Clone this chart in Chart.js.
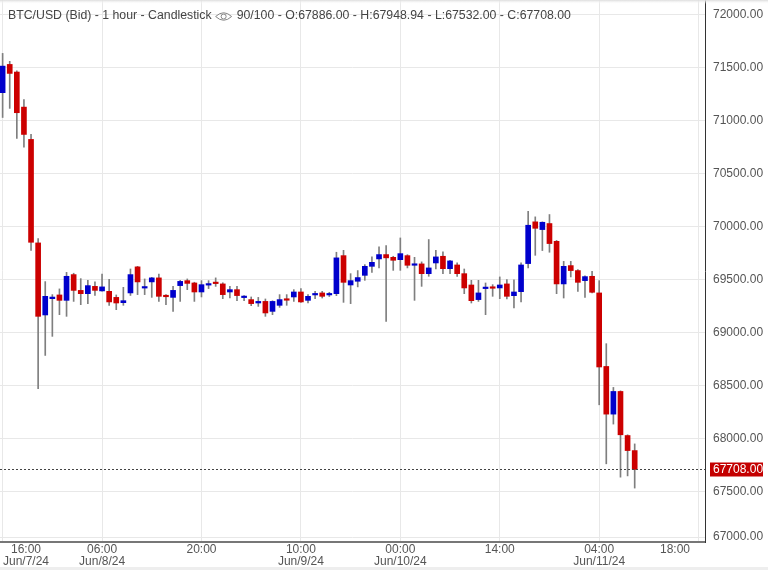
<!DOCTYPE html>
<html>
<head>
<meta charset="utf-8">
<script src="https://cdn.jsdelivr.net/npm/chart.js@4.4.1/dist/chart.umd.min.js"></script>
<style>
  html, body { margin: 0; padding: 0; background: #fff; }
  canvas { display: block; }
</style>
</head>
<body>
<canvas id="chart" width="768" height="570"></canvas>
<script>
//-----------------------------------------------------------------------------
// Data: BTC/USD hourly candles, first one at 16:00 Jun/7/24
const opens = [
  71264, 71531, 71459, 71128, 70823, 69846, 69166, 69320, 69355, 69304,
  69547, 69398, 69367, 69436, 69393, 69389, 69332, 69282, 69374, 69620,
  69420, 69478, 69516, 69345, 69332, 69443, 69490, 69468, 69383, 69448,
  69475, 69459, 69383, 69405, 69330, 69311, 69279, 69294, 69200, 69257,
  69315, 69336, 69383, 69304, 69355, 69374, 69355, 69367, 69726, 69449,
  69484, 69540, 69625, 69695, 69736, 69710, 69688, 69726, 69635, 69648,
  69556, 69657, 69720, 69603, 69638, 69556, 69449, 69311, 69415, 69430,
  69421, 69459, 69348, 69386, 69651, 70045, 69972, 70029, 69861, 69459,
  69632, 69585, 69490, 69531, 69374, 68680, 68230, 68444, 68028, 67886
];
const highs = [
  71635, 71560, 71470, 71200, 70870, 69887, 69481, 69358, 69412, 69568,
  69560, 69509, 69493, 69478, 69553, 69502, 69355, 69427, 69600, 69625,
  69506, 69521, 69553, 69358, 69436, 69493, 69506, 69475, 69490, 69490,
  69516, 69470, 69436, 69436, 69350, 69336, 69332, 69317, 69300, 69358,
  69358, 69405, 69414, 69358, 69389, 69389, 69380, 69758, 69776, 69556,
  69585, 69641, 69714, 69808, 69821, 69720, 69893, 69735, 69710, 69667,
  69878, 69776, 69761, 69682, 69657, 69600, 69493, 69493, 69468, 69452,
  69525, 69500, 69497, 69657, 70145, 70092, 70045, 70114, 69870, 69672,
  69672, 69595, 69535, 69578, 69490, 68895, 68482, 68450, 68035, 67948.94
];
const lows = [
  71030, 71116, 70832, 70750, 69776, 68470, 68784, 68964, 69169, 69153,
  69294, 69263, 69273, 69351, 69390, 69257, 69216, 69257, 69350, 69358,
  69358, 69332, 69294, 69263, 69200, 69294, 69405, 69294, 69336, 69415,
  69436, 69320, 69326, 69301, 69301, 69254, 69247, 69153, 69169, 69238,
  69257, 69294, 69285, 69279, 69320, 69326, 69340, 69348, 69285, 69273,
  69431, 69493, 69568, 69610, 69105, 69587, 69587, 69610, 69304, 69436,
  69531, 69600, 69556, 69556, 69531, 69367, 69279, 69294, 69169, 69342,
  69320, 69317, 69232, 69289, 69610, 69729, 69774, 69758, 69367, 69326,
  69525, 69389, 69332, 69375, 68318, 67761, 68136, 67635, 67647, 67532
];
const closes = [
  71515, 71446, 71075, 70870, 69852, 69153, 69342, 69335, 69304, 69531,
  69398, 69367, 69443, 69398, 69431, 69289, 69279, 69301, 69547, 69478,
  69425, 69516, 69342, 69338, 69398, 69483, 69464, 69383, 69452, 69455,
  69462, 69358, 69405, 69349, 69338, 69273, 69294, 69185, 69294, 69311,
  69305, 69383, 69289, 69342, 69362, 69342, 69362, 69705, 69474, 69490,
  69519, 69625, 69663, 69736, 69705, 69682, 69745, 69635, 69642, 69556,
  69610, 69714, 69603, 69676, 69556, 69421, 69301, 69374, 69425, 69418,
  69449, 69342, 69383, 69638, 70013, 69984, 70041, 69840, 69459, 69625,
  69585, 69474, 69528, 69380, 68675, 68230, 68444, 68035, 67886, 67708
];
// x ticks are hour offsets from the first candle
const tickHours = [0, 14, 28, 42, 56, 70, 84, 98];
const tickLabels = [
  ['16:00', 'Jun/7/24'], ['06:00', 'Jun/8/24'], ['20:00'], ['10:00', 'Jun/9/24'],
  ['00:00', 'Jun/10/24'], ['14:00'], ['04:00', 'Jun/11/24'], ['18:00']
];
const priceTicks = [67000, 67500, 68000, 68500, 69000, 69500, 70000, 70500, 71000, 71500, 72000];

const UP = '#0000cc', DOWN = '#cc0000', WICK = '#7f7f7f';
const FONT = 'Arial, "Liberation Sans", sans-serif';
const Y_MIN = 67023, Y_MAX = 72139;

//-----------------------------------------------------------------------------
// Datasets
const hours = opens.map((_, i) => i);
const last = opens.length - 1;
const bodyColors = hours.map(i => closes[i] >= opens[i] ? UP : DOWN);

const bodies = {
  data: hours.map(i => ({ x: i, y: [opens[i], closes[i]] })),
  backgroundColor: bodyColors,
  barThickness: 5,
  minBarLength: 1.5,
  grouped: false,
  order: 0
};
const wicks = {
  data: hours.map(i => ({ x: i, y: [lows[i], highs[i]] })),
  backgroundColor: WICK,
  barThickness: 1,
  grouped: false,
  order: 1
};

//-----------------------------------------------------------------------------
// Overlay: title, x labels, last price marker
const overlay = {
  id: 'overlay',
  beforeDraw(chart) {
    const ctx = chart.ctx;
    ctx.save();
    ctx.fillStyle = '#fff';
    ctx.fillRect(0, 0, chart.width, chart.height);
    ctx.restore();
  },
  afterDraw(chart) {
    const { ctx, chartArea: a, scales: { x, y } } = chart;
    ctx.save();
    ctx.font = '12px ' + FONT;
    ctx.textBaseline = 'middle';

    // last price dashed line + red label
    const py = Math.round(y.getPixelForValue(closes[last])) + 0.5;
    ctx.strokeStyle = '#444';
    ctx.lineWidth = 1;
    ctx.setLineDash([2, 2]);
    ctx.beginPath();
    ctx.moveTo(a.left, py);
    ctx.lineTo(a.right, py);
    ctx.stroke();
    ctx.setLineDash([]);
    ctx.fillStyle = '#c40000';
    ctx.fillRect(a.right + 5, py - 7, 53, 14);
    ctx.fillStyle = '#fff';
    ctx.textAlign = 'left';
    ctx.fillText(closes[last].toFixed(2), a.right + 8, py + 0.5);

    // title
    const t1 = 'BTC/USD (Bid) - 1 hour - Candlestick';
    const t2 = `90/100 - O:${opens[last].toFixed(2)} - H:${highs[last].toFixed(2)} - L:${lows[last].toFixed(2)} - C:${closes[last].toFixed(2)}`;
    ctx.font = '12.3px ' + FONT;
    ctx.fillStyle = '#444';
    ctx.fillText(t1, 8, 16);
    const ex = 8 + ctx.measureText(t1).width + 12;
    ctx.strokeStyle = '#888';
    ctx.beginPath();
    ctx.moveTo(ex - 8, 16.5);
    ctx.quadraticCurveTo(ex, 9, ex + 8, 16.5);
    ctx.quadraticCurveTo(ex, 24, ex - 8, 16.5);
    ctx.stroke();
    ctx.beginPath();
    ctx.arc(ex, 16.5, 2.5, 0, 2 * Math.PI);
    ctx.stroke();
    ctx.fillText(t2, ex + 13, 16);

    // x tick labels, kept inside the plot area
    ctx.font = '12px ' + FONT;
    ctx.fillStyle = '#555';
    ctx.textAlign = 'center';
    tickHours.forEach(function(h, k) {
      const lines = tickLabels[k];
      const w = Math.max(...lines.map(s => ctx.measureText(s).width));
      let cx = x.getPixelForValue(h);
      if (cx - w / 2 < a.left + 3) cx = a.left + 3 + w / 2;
      if (cx + w / 2 > a.right - 15) cx = a.right - 15 - w / 2;
      lines.forEach(function(s, j) {
        ctx.fillText(s, cx, 550 + j * 11.5);
      });
    });

    // frame shading top and bottom
    const g = ctx.createLinearGradient(0, 0, 0, 4);
    g.addColorStop(0, '#dcdcdc');
    g.addColorStop(1, 'rgba(255,255,255,0)');
    ctx.fillStyle = g;
    ctx.fillRect(0, 0, chart.width, 4);
    ctx.fillStyle = '#eeeeee';
    ctx.fillRect(0, 567, chart.width, 3);
    ctx.restore();
  }
};

//-----------------------------------------------------------------------------
// Chart
Chart.defaults.font.family = FONT;
Chart.defaults.font.size = 12;

new Chart(document.getElementById('chart'), {
  type: 'bar',
  data: { datasets: [bodies, wicks] },
  options: {
    responsive: false,
    animation: false,
    layout: { padding: 0 },
    plugins: { legend: { display: false }, tooltip: { enabled: false } },
    scales: {
      x: {
        type: 'linear',
        min: -0.37,
        max: 98.9,
        offset: false,
        afterBuildTicks: s => { s.ticks = tickHours.map(v => ({ value: v })); },
        afterFit: s => { s.height = 28; s.paddingLeft = 0; s.paddingRight = 0; },
        ticks: { display: false },
        grid: { color: '#e8e8e8', offset: false, drawTicks: false },
        border: { display: true, color: '#777', width: 2 }
      },
      y: {
        type: 'linear',
        position: 'right',
        min: Y_MIN,
        max: Y_MAX,
        // lowest price tick sits just inside the bottom edge, like the source chart
        afterBuildTicks: s => {
          s.ticks = priceTicks.map(v => ({ value: Math.max(v, Y_MIN + 47) }));
        },
        afterFit: s => { s.width = 63; s.paddingTop = 0; s.paddingBottom = 0; },
        ticks: {
          padding: 8,
          color: '#555',
          callback: (v, i) => priceTicks[i].toFixed(2)
        },
        grid: { color: '#e8e8e8', drawTicks: false },
        border: { display: true, color: '#333', width: 1 }
      }
    }
  },
  plugins: [overlay]
});
</script>
</body>
</html>
